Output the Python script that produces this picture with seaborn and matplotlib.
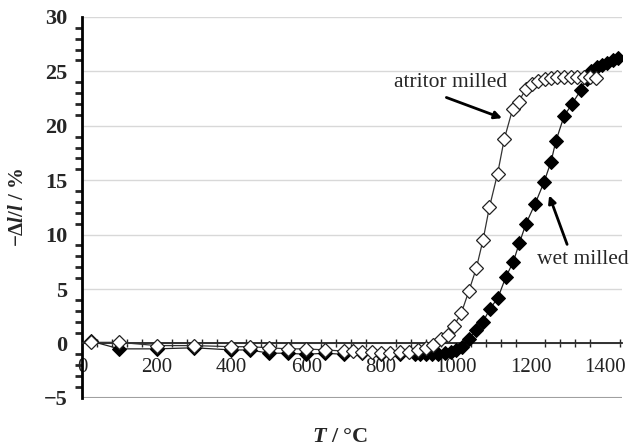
import numpy as np
import pandas as pd
import matplotlib
matplotlib.use("Agg")
import matplotlib.pyplot as plt
from matplotlib.ticker import MultipleLocator
import seaborn as sns

sns.set_style("white")
plt.rcParams['font.family'] = ['Liberation Serif', 'DejaVu Serif']
plt.rcParams['mathtext.fontset'] = 'custom'
plt.rcParams['mathtext.rm'] = 'Liberation Serif:bold'
plt.rcParams['mathtext.it'] = 'Liberation Serif:italic:bold'

# atritor milled (open diamonds)
atr_T = [25, 100, 200, 300, 400, 450, 500, 550, 600, 650, 700, 725, 750, 775, 800, 825,
         850, 875, 900, 920, 940, 960, 980, 995, 1015, 1035, 1055, 1073, 1090, 1112,
         1130, 1152, 1168, 1188, 1204, 1220, 1238, 1255, 1272, 1290, 1308, 1325, 1342,
         1358, 1375]
atr_dl = [0.1, 0.1, -0.2, -0.2, -0.3, -0.3, -0.4, -0.5, -0.5, -0.6, -0.7, -0.7, -0.8,
          -0.8, -0.9, -0.9, -0.8, -0.8, -0.6, -0.4, -0.1, 0.4, 0.8, 1.6, 2.8, 4.8, 6.9,
          9.5, 12.5, 15.6, 18.8, 21.5, 22.2, 23.4, 23.8, 24.1, 24.3, 24.4, 24.5, 24.5,
          24.5, 24.5, 24.5, 24.5, 24.4]

# wet milled (filled diamonds)
wet_T = [25, 100, 200, 300, 400, 450, 500, 550, 600, 650, 700, 750, 800, 850, 890, 905,
         920, 937, 953, 970, 987, 1001, 1017, 1036, 1055, 1073, 1092, 1113, 1134, 1154,
         1170, 1188, 1212, 1236, 1255, 1268, 1290, 1311, 1335, 1350, 1362, 1378, 1392,
         1406, 1420, 1435]
wet_dl = [0.2, -0.5, -0.5, -0.4, -0.6, -0.6, -0.9, -0.9, -1.0, -0.9, -1.0, -0.9, -1.0,
          -1.0, -1.0, -1.0, -1.0, -1.0, -1.0, -0.9, -0.8, -0.6, -0.3, 0.45, 1.2, 2.0,
          3.2, 4.2, 6.1, 7.5, 9.2, 11.0, 12.8, 14.8, 16.7, 18.6, 20.9, 22.0, 23.3, 24.3,
          25.0, 25.4, 25.6, 25.8, 26.0, 26.2]

df_atr = pd.DataFrame({'T': atr_T, 'dl': atr_dl})
df_wet = pd.DataFrame({'T': wet_T, 'dl': wet_dl})

fig, ax = plt.subplots(figsize=(6.38, 4.46), dpi=100)
fig.subplots_adjust(left=0.1285, right=0.975, top=0.962, bottom=0.108)

sns.lineplot(data=df_wet, x='T', y='dl', sort=False, errorbar=None, ax=ax,
             color='#222222', lw=0.9, marker='D', markersize=7.5,
             markerfacecolor='black', markeredgecolor='black', zorder=3)
sns.lineplot(data=df_atr, x='T', y='dl', sort=False, errorbar=None, ax=ax,
             color='#333333', lw=0.9, marker='D', markersize=7.2,
             markerfacecolor='white', markeredgecolor='#222222', markeredgewidth=0.9,
             zorder=4)

ax.set_xlim(0, 1445)
ax.set_ylim(-5, 30)
ax.yaxis.set_major_locator(MultipleLocator(5))
ax.yaxis.set_minor_locator(MultipleLocator(1))
ax.xaxis.set_major_locator(MultipleLocator(200))
ax.xaxis.set_minor_locator(MultipleLocator(40))

ax.grid(axis='y', color='#d8d8d8', lw=1)
ax.set_axisbelow(True)
for s in ['top', 'right']:
    ax.spines[s].set_visible(False)
ax.spines['bottom'].set_position(('data', 0))
ax.spines['bottom'].set_linewidth(1.3)
ax.spines['bottom'].set_color('#222222')
ax.spines['left'].set_linewidth(2)
ax.spines['left'].set_color('black')
ax.axhline(-5, color='#a0a0a0', lw=1.5, zorder=1)

ax.tick_params(axis='y', which='major', direction='inout', length=11, width=2,
               labelsize=16, pad=5)
ax.tick_params(axis='y', which='minor', direction='out', length=5, width=2, left=True)
ax.tick_params(axis='x', which='major', direction='inout', length=13, width=1.2,
               labelsize=15, pad=4, colors='#222222')
ax.tick_params(axis='x', which='minor', direction='inout', length=6, width=1, bottom=True)
for lab in ax.get_yticklabels():
    lab.set_fontweight('bold')
ax.set_xticks(range(0, 1401, 200))

ax.set_xlabel('$T$ / °C', fontsize=16, fontweight='bold', va='center')
ax.xaxis.set_label_coords(0.478, -0.102)
ax.set_ylabel('−Δ$l$/$l$ / %', fontsize=15, fontweight='bold')
ax.yaxis.set_label_coords(-0.10, 0.50)

arrow = dict(arrowstyle='-|>', color='black', lw=2, shrinkA=0, shrinkB=0,
             mutation_scale=11)
ax.text(985, 24.0, 'atritor milled', fontsize=15.5, ha='center', va='center')
ax.annotate('', xy=(1124, 20.7), xytext=(975, 22.6), arrowprops=arrow)
ax.text(1340, 7.7, 'wet milled', fontsize=15.5, ha='center', va='center', clip_on=False)
ax.annotate('', xy=(1250, 13.6), xytext=(1298, 9.1), arrowprops=arrow)

fig.savefig('out.png', dpi=100)
